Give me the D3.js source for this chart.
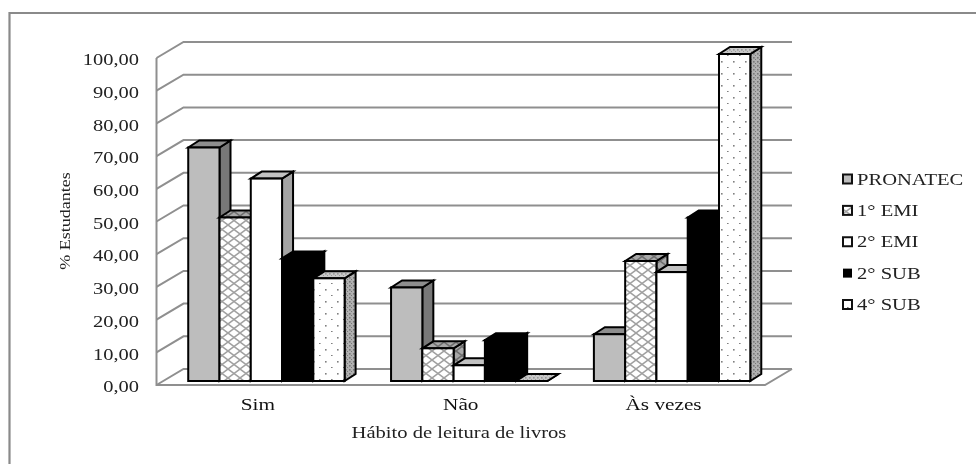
<!DOCTYPE html>
<html>
<head>
<meta charset="utf-8">
<script src="https://cdn.jsdelivr.net/npm/d3@7"></script>
<style>
html, body { margin: 0; padding: 0; background: #fff; }
svg { display: block; filter: blur(0.4px); }
text { font-family: "Liberation Serif", serif; fill: #222; }
</style>
</head>
<body>
<div id="chart"></div>
<script>
const categories = ['Sim', 'Não', 'Às vezes'];
const seriesNames = ['PRONATEC', '1° EMI', '2° EMI', '2° SUB', '4° SUB'];
const pronatec = [71.4, 28.6, 14.3];
const emi1 = [50.0, 10.0, 36.7];
const emi2 = [61.9, 4.8, 33.3];
const sub2 = [37.5, 12.5, 50.0];
const sub4 = [31.4, 0, 100.0];
const yTicks = [0, 10, 20, 30, 40, 50, 60, 70, 80, 90, 100];

const allSeries = [pronatec, emi1, emi2, sub2, sub4];

const width = 976, height = 464;
const svg = d3.select('#chart').append('svg').attr('width', width).attr('height', height);
const defs = svg.append('defs');

// crosshatch
function hatch(id, stroke, bg) {
    const p = defs.append('pattern').attr('id', id).attr('patternUnits', 'userSpaceOnUse')
        .attr('width', 12).attr('height', 9);
    p.append('rect').attr('width', 12).attr('height', 9).attr('fill', bg);
    p.append('path').attr('d', 'M0,0L12,9M12,0L0,9').attr('stroke', stroke).attr('stroke-width', 1.5).attr('fill', 'none');
}
// dots
function dots(id, dot, bg, w, h) {
    const p = defs.append('pattern').attr('id', id).attr('patternUnits', 'userSpaceOnUse')
        .attr('width', w).attr('height', h);
    p.append('rect').attr('width', w).attr('height', h).attr('fill', bg);
    p.append('rect').attr('x', 1).attr('y', 1).attr('width', 1.6).attr('height', 1.6).attr('fill', dot);
    p.append('rect').attr('x', w / 2 + 1).attr('y', h / 2 + 1).attr('width', 1.6).attr('height', 1).attr('fill', dot);
}
hatch('hatchFront', '#a0a0a0', '#ffffff');
hatch('hatchDark', '#6e6e6e', '#a8a8a8');
dots('dotFront', '#808080', '#ffffff', 12, 12);
dots('dotSide', '#777', '#b0b0b0', 4, 4);
dots('dotTop', '#999', '#c8c8c8', 4, 4);

const styles = [
    {front: '#bdbdbd', top: '#8e8e8e', side: '#787878', stroke: '#000'},
    {front: 'url(#hatchFront)', top: 'url(#hatchDark)', side: 'url(#hatchDark)', stroke: '#000'},
    {front: '#ffffff', top: '#c2c2c2', side: '#a4a4a4', stroke: '#000'},
    {front: '#000000', top: '#000000', side: '#000000', stroke: '#000'},
    {front: 'url(#dotFront)', top: 'url(#dotTop)', side: 'url(#dotSide)', stroke: '#000'}
];

// the source font is set wider than Liberation Serif, stretch to match
function widen(sel, factor) {
    sel.each(function () {
        d3.select(this)
            .attr('lengthAdjust', 'spacingAndGlyphs')
            .attr('textLength', this.getComputedTextLength() * factor);
    });
}

// outer frame
svg.append('path').attr('d', 'M9.5,464V13H976').attr('fill', 'none').attr('stroke', '#8a8a8a').attr('stroke-width', 2.2);

// 3d projection offsets
const wallDx = 27, wallDy = -16;
const barDx = 11, barDy = -7;
const barInsetX = 8.5, barInsetY = -4;

const x = d3.scaleBand().domain(categories).range([156.5, 765]).paddingInner(0.229).paddingOuter(0.1145);
const xs = d3.scaleBand().domain(d3.range(5)).range([0, x.bandwidth()]);
const y = d3.scaleLinear().domain([0, 100]).range([385, 58]);

// walls and floor
const grid = svg.append('g').attr('fill', 'none').attr('stroke', '#8f8f8f').attr('stroke-width', 2);
grid.append('path').attr('d', `M${x.range()[0]},${y(100)}V${y(0)}H${x.range()[1]}L${x.range()[1] + wallDx},${y(0) + wallDy}`);
yTicks.forEach(t => {
    grid.append('path')
        .attr('d', `M${x.range()[0]},${y(t)}L${x.range()[0] + wallDx},${y(t) + wallDy}H${x.range()[1] + wallDx}`);
});

// bars, left to right so later bars sit over the sides of earlier ones
const bars = svg.append('g').attr('stroke-width', 2).attr('stroke-linejoin', 'miter');
categories.forEach((c, ci) => {
    allSeries.forEach((vals, si) => {
        const st = styles[si];
        const x0 = x(c) + xs(si) + barInsetX;
        const x1 = x0 + xs.bandwidth();
        const yb = y(0) + barInsetY;
        const yt = y(vals[ci]) + barInsetY;
        const g = bars.append('g').attr('stroke', st.stroke);
        g.append('path').attr('fill', st.side)
            .attr('d', `M${x1},${yt}L${x1 + barDx},${yt + barDy}V${yb + barDy}L${x1},${yb}Z`);
        g.append('path').attr('fill', st.top)
            .attr('d', `M${x0},${yt}L${x0 + barDx},${yt + barDy}H${x1 + barDx}L${x1},${yt}Z`);
        g.append('rect').attr('x', x0).attr('y', yt).attr('width', x1 - x0).attr('height', yb - yt).attr('fill', st.front);
    });
});

// axes
const yAxis = d3.axisLeft(y).tickValues(yTicks).tickSize(0).tickPadding(0)
    .tickFormat(d => d3.format('.2f')(d).replace('.', ','));
const yG = svg.append('g').attr('transform', 'translate(139,1.5)').call(yAxis);
yG.select('.domain').remove();
yG.selectAll('text').style('font-family', '"Liberation Serif", serif').style('font-size', '16.5px');
widen(yG.selectAll('text'), 1.24);

const xAxis = d3.axisBottom(x).tickSize(0).tickPadding(0);
const xG = svg.append('g').attr('transform', 'translate(0,398)').call(xAxis);
xG.select('.domain').remove();
xG.selectAll('text').style('font-family', '"Liberation Serif", serif').style('font-size', '17px').style('fill', '#111');
widen(xG.selectAll('text'), 1.25);

const xTitle = svg.append('text').attr('x', 459).attr('y', 438).attr('text-anchor', 'middle')
    .style('font-size', '17px').text('Hábito de leitura de livros');
widen(xTitle, 1.21);
const yTitle = svg.append('text').attr('transform', 'translate(70,221) rotate(-90)').attr('text-anchor', 'middle')
    .style('font-size', '15px').text('% Estudantes');
widen(yTitle, 1.2);

// legend
const legendY = d3.scalePoint().domain(seriesNames).range([179, 304.5]);
const legend = svg.append('g');
seriesNames.forEach((name, i) => {
    const st = styles[i];
    legend.append('rect').attr('x', 843).attr('y', legendY(name) - 4.5).attr('width', 9).attr('height', 9)
        .attr('fill', st.front).attr('stroke', i === 3 ? 'none' : '#111').attr('stroke-width', 2);
    const t = legend.append('text').attr('x', 857).attr('y', legendY(name) + 5.5)
        .style('font-size', '17px').text(name);
    widen(t, 1.21);
});
</script>
</body>
</html>
